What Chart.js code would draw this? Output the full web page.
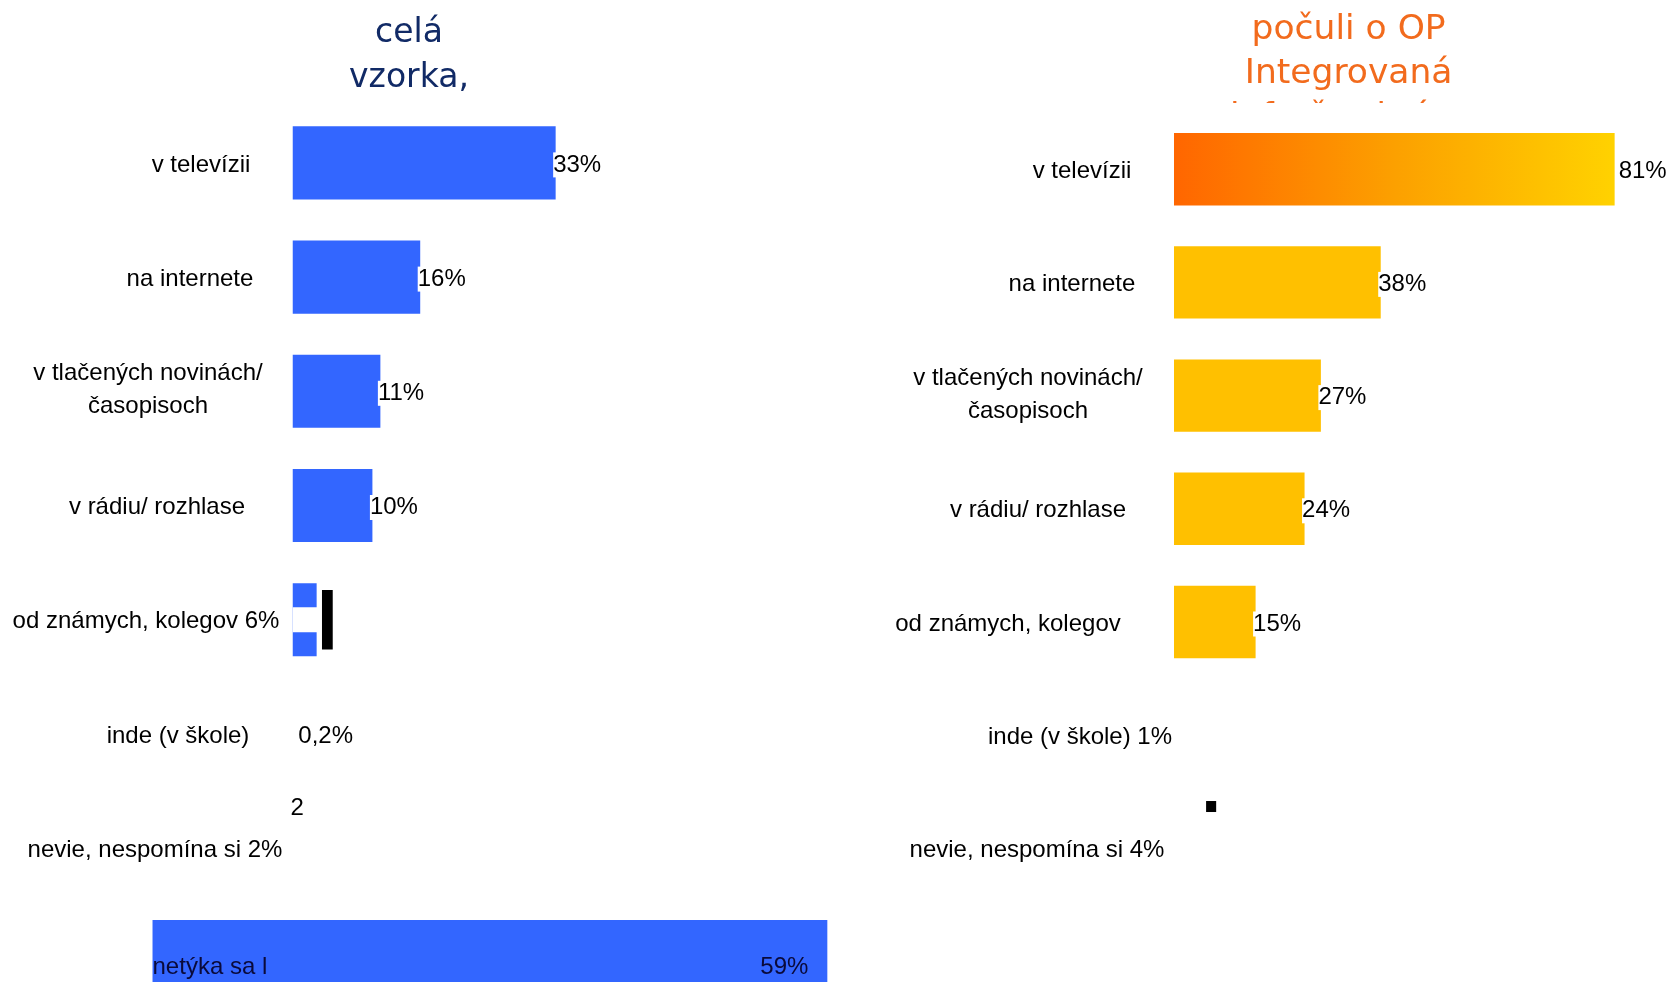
<!DOCTYPE html>
<html lang="sk">
<head>
<meta charset="utf-8">
<title>Kde počuli o OP</title>
<script src="https://cdn.jsdelivr.net/npm/chart.js@4.4.1/dist/chart.umd.min.js"></script>
<style>
    html, body { margin: 0; padding: 0; background: #fff; overflow: hidden; }
    body { width: 1669px; height: 982px; position: relative; }
    .panel { position: absolute; top: 0; }
    #panelLeft { left: 0; }
    #panelRight { left: 860px; }
</style>
</head>
<body>
<div class="panel" id="panelLeft"><canvas id="celaVzorkaChart" width="940" height="1040"></canvas></div>
<div class="panel" id="panelRight"><canvas id="poculiChart" width="809" height="982"></canvas></div>
<script>
// ---- data: celá vzorka ----
const leftTitle = ['celá', 'vzorka,'];
const leftCategories = ['v televízii', 'na internete', ['v tlačených novinách/', 'časopisoch'], 'v rádiu/ rozhlase',
    'od známych, kolegov 6%', 'inde (v škole)', 'nevie, nespomína si 2%', 'netýka sa l'];
const leftBars = [33, 16, 11, 10, 3, null, null, null];
const leftValueText = ['33%', '16%', '11%', '10%', '', '0,2%', '', '59%'];
const leftNetyka = [null, null, null, null, null, null, null, [-17.6, 67.1]];
const leftGap = [null, null, null, null, [0, 3.3], null, null, null];
const leftMarker = [null, null, null, null, [3.67, 5.02], null, null, null];

// ---- data: počuli o OP ----
const rightTitle = ['počuli o OP', 'Integrovaná', 'infraštruktúra'];
const rightCategories = ['v televízii', 'na internete', ['v tlačených novinách/', 'časopisoch'], 'v rádiu/ rozhlase',
    'od známych, kolegov', 'inde (v škole) 1%', 'nevie, nespomína si 4%'];
const rightBars = [81, 38, 27, 24, 15, null, null];
const rightValueText = ['81%', '38%', '27%', '24%', '15%', '', ''];

// ---- layout (page coordinates of the category label centres) ----
const leftLabelX = [201, 190, 148, 157, 146, 178, 155, null];
const rightLabelX = [1082, 1072, 1028, 1038, 1008, 1080, 1037];

const labelFont = '24px "Liberation Sans", Arial, sans-serif';
const blue = '#3366ff';
const yellow = '#ffc000';
const textDrop = 2;

function drawTexts(chart, opts) {
    const ctx = chart.ctx;
    const xs = chart.scales.x;
    const ys = chart.scales.y;
    const step = ys.getPixelForValue(1) - ys.getPixelForValue(0);

    ctx.save();
    // title
    ctx.save();
    ctx.beginPath();
    ctx.rect(0, 0, chart.width, opts.titleClip);
    ctx.clip();
    ctx.font = opts.titleFont;
    ctx.fillStyle = opts.titleColor;
    ctx.textAlign = 'center';
    ctx.textBaseline = 'alphabetic';
    opts.title.forEach(function (line, i) {
        ctx.fillText(line, opts.titleX, opts.titleBase + i * opts.titleLead);
    });
    ctx.restore();

    // category labels
    ctx.font = labelFont;
    ctx.fillStyle = '#000';
    ctx.textAlign = 'center';
    ctx.textBaseline = 'middle';
    opts.labels.forEach(function (lab, i) {
        if (opts.labelX[i] == null) return;
        const y = ys.getPixelForValue(i) + textDrop;
        const lines = Array.isArray(lab) ? lab : [lab];
        lines.forEach(function (t, j) {
            const dy = lines.length > 1 ? (j - (lines.length - 1) / 2) * 33 - 3 : 0;
            ctx.fillText(t, opts.labelX[i] - opts.offset, y + dy);
        });
    });

    // value labels on white boxes
    ctx.textAlign = 'left';
    opts.valueText.forEach(function (t, i) {
        if (!t || opts.bars[i] == null) return;
        const y = ys.getPixelForValue(i) + textDrop;
        const end = xs.getPixelForValue(opts.bars[i]);
        if (opts.noBox && opts.noBox.indexOf(i) >= 0) {
            ctx.fillStyle = '#000';
            ctx.fillText(t, end + 4, y);
            return;
        }
        const x = end - 2.5;
        const w = ctx.measureText(t).width;
        ctx.fillStyle = '#fff';
        ctx.fillRect(x, y - 12.5, w, 25);
        ctx.fillStyle = '#000';
        ctx.fillText(t, x, y);
    });
    if (opts.extra) opts.extra(ctx, xs, ys, step);
    ctx.restore();
}

// Gráfico celá vzorka
const ctxLeft = document.getElementById('celaVzorkaChart');
new Chart(ctxLeft.getContext('2d'), {
    type: 'bar',
    data: {
        labels: leftCategories,
        datasets: [
            { data: leftMarker, backgroundColor: '#000', barPercentage: 0.52, order: 1 },
            { data: leftGap, backgroundColor: '#fff', barPercentage: 0.22, order: 2 },
            { data: leftBars, backgroundColor: blue, order: 3 },
            { data: leftNetyka, backgroundColor: blue, barPercentage: 0.74, order: 4 }
        ]
    },
    options: {
        indexAxis: 'y',
        responsive: false,
        animation: false,
        layout: { padding: { left: 133.4, right: 9.9, top: 105.8, bottom: 20.6 } },
        scales: {
            x: { display: false, min: -20, max: 80 },
            y: { display: false }
        },
        datasets: { bar: { grouped: false, categoryPercentage: 1, barPercentage: 0.64, borderWidth: 0 } },
        plugins: { legend: { display: false }, tooltip: { enabled: false } }
    },
    plugins: [{
        id: 'leftTexts',
        afterDatasetsDraw: function (chart) {
            drawTexts(chart, {
                title: leftTitle, titleFont: '33px "DejaVu Sans", sans-serif', titleColor: '#112a66',
                titleX: 409, titleBase: 42, titleLead: 45, titleClip: 103,
                labels: leftCategories, labelX: leftLabelX, offset: 0,
                valueText: leftValueText.slice(0, 5), bars: leftBars,
                extra: function (ctx, xs, ys, step) {
                    // 0,2 % next to the (invisible) bar
                    ctx.fillStyle = '#000';
                    ctx.fillText(leftValueText[5], xs.getPixelForValue(0.2) + 4, ys.getPixelForValue(5) + textDrop);
                    // stray "2"
                    ctx.textAlign = 'center';
                    ctx.fillText('2', xs.getPixelForValue(0.55), ys.getPixelForValue(5) + 0.63 * step + 3);
                    // netýka sa text inside the bar
                    const yN = ys.getPixelForValue(7) + 5;
                    ctx.fillStyle = '#0a0a3a';
                    ctx.textAlign = 'left';
                    ctx.fillText(leftCategories[7], xs.getPixelForValue(leftNetyka[7][0]), yN);
                    ctx.textAlign = 'right';
                    ctx.fillText(leftValueText[7], xs.getPixelForValue(leftNetyka[7][1]) - 19, yN);
                }
            });
        }
    }]
});

// Gráfico počuli o OP
const ctxRight = document.getElementById('poculiChart');
new Chart(ctxRight.getContext('2d'), {
    type: 'bar',
    data: {
        labels: rightCategories,
        datasets: [{
            data: rightBars,
            backgroundColor: function (c) {
                if (c.dataIndex !== 0) return yellow;
                const ch = c.chart;
                if (!ch.chartArea) return '#ff9900';
                const x0 = ch.scales.x.getPixelForValue(0);
                const x1 = ch.scales.x.getPixelForValue(rightBars[0]);
                const g = ch.ctx.createLinearGradient(x0, 0, x1, 0);
                g.addColorStop(0, '#ff6600');
                g.addColorStop(0.5, '#fca000');
                g.addColorStop(1, '#ffd200');
                return g;
            }
        }]
    },
    options: {
        indexAxis: 'y',
        responsive: false,
        animation: false,
        layout: { padding: { left: 314, right: 5.4, top: 112.6, bottom: 77 } },
        scales: {
            x: { display: false, min: 0, max: 90 },
            y: { display: false }
        },
        datasets: { bar: { grouped: false, categoryPercentage: 1, barPercentage: 0.64, borderWidth: 0 } },
        plugins: { legend: { display: false }, tooltip: { enabled: false } }
    },
    plugins: [{
        id: 'rightTexts',
        afterDatasetsDraw: function (chart) {
            drawTexts(chart, {
                title: rightTitle, titleFont: '34.5px "DejaVu Sans", sans-serif', titleColor: '#f26b1d',
                titleX: 1348.6 - 860, titleBase: 39, titleLead: 44, titleClip: 103,
                labels: rightCategories, labelX: rightLabelX, offset: 860,
                valueText: rightValueText, bars: rightBars, noBox: [0],
                extra: function (ctx, xs, ys, step) {
                    // small black square between the last two rows
                    const x0 = xs.getPixelForValue(5.9);
                    const x1 = xs.getPixelForValue(7.75);
                    const yc = ys.getPixelForValue(5) + 0.63 * step;
                    ctx.fillStyle = '#000';
                    ctx.fillRect(x0, yc - 5.5, x1 - x0, 11);
                }
            });
        }
    }]
});
</script>
</body>
</html>
